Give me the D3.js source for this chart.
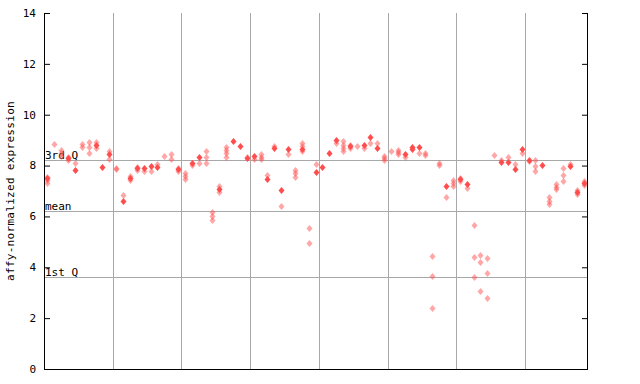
<!DOCTYPE html>
<html><head><meta charset="utf-8">
<script src="https://cdn.jsdelivr.net/npm/d3@7"></script>
<style>body{margin:0;background:#fff}svg{display:block}</style>
</head><body>
<script>
// ---- data ----
const groupSizes = [10,10,10,10,10,10,10,9];
const hatched = [
 [7.56,7.43,7.30],[8.84],[8.62,8.5,8.38],[8.32,8.22],[8.1],[8.84,8.72],[8.94,8.74,8.51],[8.92,8.7],[],[8.58,8.25],
 [7.86,7.9],[6.84],[7.58,7.43],[7.95,7.83],[7.8],[7.79],[8.05],[8.38],[8.44,8.25],[7.9,7.78],
 [7.69,7.59,7.48],[8.04],[8.11],[8.56,8.32,8.09],[6.19,6.02,5.86],[7.21,6.95],[8.74,8.61,8.48,8.35],[],[],[8.33],
 [8.25],[8.44,8.35,8.26],[7.63],[8.77],[6.4],[8.44],[7.83,7.69,7.56],[8.87,8.77,8.58],[5.53,4.94],[8.06],
 [],[],[8.88],[8.96,8.8,8.68,8.56],[8.82,8.68],[8.77],[8.68],[8.9],[8.9],[8.38,8.3,8.22],
 [8.58],[8.62,8.52,8.44],[8.32],[],[8.5],[8.48,8.42],[4.44,3.66,2.40],[8.1,8.02],[6.78],[7.43,7.33,7.2],
 [7.5,7.38],[7.1],[5.65,4.42,3.62],[4.47,4.2,3.06],[4.35,3.76,2.78],[8.42],[8.2],[8.32],[8.06],[8.51],
 [8.18],[8.22,7.98,7.8],[],[6.75,6.62,6.49],[7.27,7.17,7.07],[7.89,7.63,7.4],[8.05],[7.05,6.88],[7.38,7.22]
];
const solid = [
 [7.52],[],[],[8.28],[7.83],[],[],[8.8],[7.93],[8.46],
 [],[6.59],[7.5],[7.89],[7.92],[7.99],[7.93],[],[],[7.85],
 [],[8.1],[8.35],[],[],[7.08],[],[8.95],[8.78],[8.28],
 [8.38],[],[7.48],[8.68],[7.04],[8.66],[],[8.66],[],[7.76],
 [7.93],[8.48],[9.0],[],[8.76],[],[8.81],[9.14],[8.7],[],
 [],[],[8.46],[8.74,8.65],[8.74],[],[],[],[7.21],[],
 [7.46],[7.26],[],[],[],[],[8.13],[8.13],[7.86],[8.64],
 [8.22],[],[8.02],[],[],[],[7.98],[6.97],[7.3]
];
const yTicks = [0,2,4,6,8,10,12,14];
const refLines = [{label:"3rd Q", v:8.21},{label:"mean", v:6.21},{label:"1st Q", v:3.62}];
const yTitle = "affy-normalized expression";

// ---- drawing ----
const W=640,H=384, L=44, R=587, T=13, B=369;
const svg = d3.select("body").append("svg").attr("width",W).attr("height",H);
const defs = svg.append("defs");
const pat = defs.append("pattern").attr("id","hatch").attr("patternUnits","userSpaceOnUse")
  .attr("width",2).attr("height",2);
pat.append("rect").attr("x",0).attr("y",0).attr("width",1).attr("height",1).attr("fill","#ff4d4d");
pat.append("rect").attr("x",1).attr("y",1).attr("width",1).attr("height",1).attr("fill","#ff4d4d");

const ids = d3.range(hatched.length);
const x = d3.scaleBand().domain(ids).range([L,R]).padding(0);
const y = d3.scaleLinear().domain([0,14]).range([B,T]);

// group separators
let acc=0;
const bounds=[];
groupSizes.slice(0,-1).forEach(s=>{acc+=s; bounds.push(acc);});
svg.append("g").selectAll("line").data(bounds).join("line")
  .attr("x1",d=>Math.round(x(d))+0.5).attr("x2",d=>Math.round(x(d))+0.5)
  .attr("y1",T).attr("y2",B).attr("stroke","#a8a8a8").attr("stroke-width",1);

// reference lines
const rl = svg.append("g");
rl.selectAll("line").data(refLines).join("line")
  .attr("x1",L).attr("x2",R).attr("y1",d=>Math.round(y(d.v))+0.5).attr("y2",d=>Math.round(y(d.v))+0.5)
  .attr("stroke","#a8a8a8").attr("stroke-width",1);
rl.selectAll("text").data(refLines).join("text")
  .attr("x",L+1).attr("y",d=>Math.round(y(d.v))-1)
  .attr("font-family","DejaVu Sans Mono, monospace").attr("font-size",11).attr("fill","#000")
  .text(d=>d.label);

// points
const diamond = "M0,-3.5L3,0L0,3.5L-3,0Z";
const cx = i => Math.round(x(i)+x.bandwidth()/2);
const hp=[], sp=[];
hatched.forEach((a,i)=>a.forEach(v=>hp.push({i,v})));
solid.forEach((a,i)=>a.forEach(v=>sp.push({i,v})));
svg.append("g").selectAll("path").data(hp).join("path")
  .attr("d",diamond).attr("transform",d=>`translate(${cx(d.i)+0.5},${Math.round(y(d.v))+0.5})`)
  .attr("fill","url(#hatch)");
svg.append("g").selectAll("path").data(sp).join("path")
  .attr("d",diamond).attr("transform",d=>`translate(${cx(d.i)+0.5},${Math.round(y(d.v))+0.5})`)
  .attr("fill","#ff4d4d");

// axes
const la = svg.append("g").attr("transform",`translate(${L},0)`)
  .call(d3.axisRight(y).tickValues(yTicks).tickSize(6).tickFormat(""));
la.select(".domain").remove();
la.selectAll("line").attr("stroke","#000");
svg.append("g").selectAll("text").data(yTicks).join("text")
  .attr("x",36).attr("y",d=>y(d)).attr("dy","0.35em").attr("text-anchor","end")
  .attr("font-family","DejaVu Sans Mono, monospace").attr("font-size",11).text(d=>d);
const ra = svg.append("g").attr("transform",`translate(${R},0)`)
  .call(d3.axisLeft(y).tickValues(yTicks).tickSize(5).tickFormat(""));
ra.select(".domain").remove();
ra.selectAll("line").attr("stroke","#000");

svg.append("line").attr("x1",L+0.5).attr("x2",L+0.5).attr("y1",T).attr("y2",B+0.5).attr("stroke","#000");
svg.append("line").attr("x1",R+0.5).attr("x2",R+0.5).attr("y1",T).attr("y2",B+0.5).attr("stroke","#000");
svg.append("line").attr("x1",L).attr("x2",R+1).attr("y1",B+0.5).attr("y2",B+0.5).attr("stroke","#000");

svg.append("text").attr("transform",`translate(14,${(T+B)/2}) rotate(-90)`)
  .attr("text-anchor","middle").attr("font-family","DejaVu Sans Mono, monospace").attr("font-size",11)
  .attr("letter-spacing",0.3).text(yTitle);
</script>
</body></html>
